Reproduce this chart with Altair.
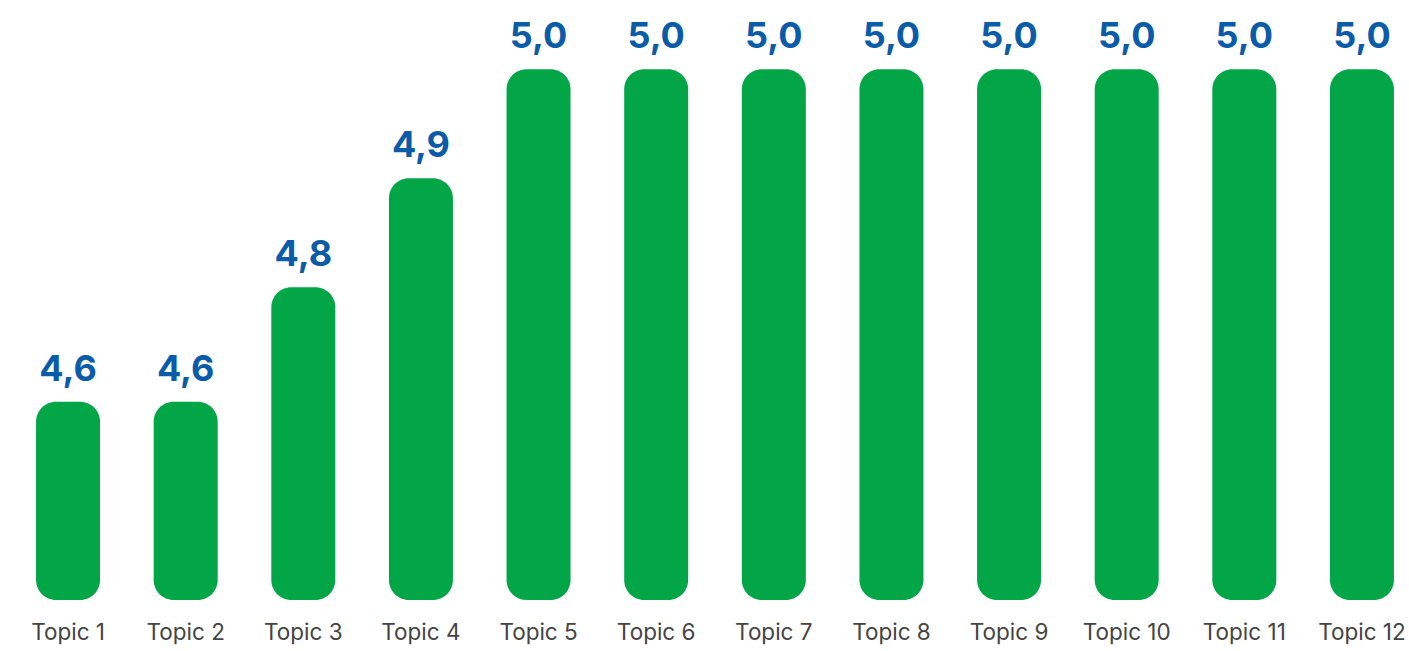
import altair as alt
import pandas as pd

topics = ["Topic 1", "Topic 2", "Topic 3", "Topic 4", "Topic 5", "Topic 6",
          "Topic 7", "Topic 8", "Topic 9", "Topic 10", "Topic 11", "Topic 12"]
# bar heights
heights = [4.695, 4.695, 4.8, 4.9, 5.0, 5.0, 5.0, 5.0, 5.0, 5.0, 5.0, 5.0]
# value labels as printed
labels = ["4,6", "4,6", "4,8", "4,9", "5,0", "5,0", "5,0", "5,0", "5,0", "5,0", "5,0", "5,0"]

df = pd.DataFrame({"topic": topics, "value": heights, "label": labels})

x = alt.X("topic:N", sort=topics, title=None,
          scale=alt.Scale(paddingInner=0.456, paddingOuter=0.128),
          axis=alt.Axis(labelAngle=0, domain=False, ticks=False, grid=False,
                        labelFont="Inter", labelFontSize=22.5, labelColor="#444444",
                        labelFontWeight="normal", labelPadding=21))
y = alt.Y("value:Q", title=None,
          scale=alt.Scale(domain=[4.513, 5.0635], zero=False, nice=False, clamp=True),
          axis=None)

base = alt.Chart(df).encode(x=x)

bars = base.mark_bar(color="#02a646", cornerRadius=20).encode(
    y=y, y2=alt.datum(4.513)
)
text = base.mark_text(font="Inter", fontSize=36, fontWeight="bold", color="#0b5ca8",
                      baseline="alphabetic", dy=-21).encode(
    y=y, text="label:N"
)

chart = (bars + text).properties(
    width=1388, height=600,
    autosize=alt.AutoSizeParams(type="none"),
    padding={"left": 21, "right": 0, "top": 0, "bottom": 51},
    background="white",
).configure_view(stroke=None, strokeWidth=0)

chart.save("out.html", embed_options={"renderer": "svg", "actions": False})
